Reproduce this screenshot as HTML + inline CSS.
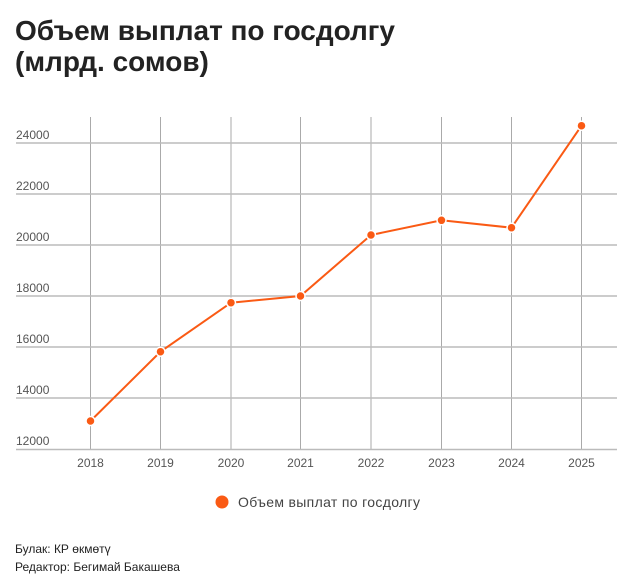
<!DOCTYPE html>
<html><head><meta charset="utf-8"><style>
body{margin:0;background:#fff;width:640px;height:586px;overflow:hidden;font-family:"Liberation Sans",sans-serif}
</style></head><body>
<svg width="640" height="586" xmlns="http://www.w3.org/2000/svg" style="position:absolute;left:0;top:0">
<text x="15" y="40" font-size="28" font-weight="bold" fill="#222" textLength="380">Объем выплат по госдолгу</text>
<text x="15" y="71" font-size="28" font-weight="bold" fill="#222">(млрд. сомов)</text>
<g stroke="#aaa" stroke-width="1">
<line x1="90.5" y1="117" x2="90.5" y2="450"/><line x1="160.5" y1="117" x2="160.5" y2="450"/>
<line x1="231" y1="117" x2="231" y2="450"/><line x1="300.5" y1="117" x2="300.5" y2="450"/>
<line x1="371" y1="117" x2="371" y2="450"/><line x1="441.5" y1="117" x2="441.5" y2="450"/>
<line x1="511.5" y1="117" x2="511.5" y2="450"/><line x1="581.5" y1="117" x2="581.5" y2="450"/>
</g>
<g stroke="#bbb" stroke-width="1.5">
<line x1="16" y1="143" x2="617" y2="143"/><line x1="16" y1="194" x2="617" y2="194"/>
<line x1="16" y1="245" x2="617" y2="245"/><line x1="16" y1="296" x2="617" y2="296"/>
<line x1="16" y1="347" x2="617" y2="347"/><line x1="16" y1="398" x2="617" y2="398"/>
<line x1="16" y1="449.5" x2="617" y2="449.5"/>
</g>
<g font-size="12" fill="#555">
<text x="16" y="139">24000</text><text x="16" y="190">22000</text><text x="16" y="241">20000</text>
<text x="16" y="292">18000</text><text x="16" y="343">16000</text><text x="16" y="394">14000</text><text x="16" y="445">12000</text>
</g>
<g font-size="12" fill="#555" text-anchor="middle">
<text x="90.5" y="467">2018</text><text x="160.5" y="467">2019</text><text x="231" y="467">2020</text><text x="300.5" y="467">2021</text>
<text x="371" y="467">2022</text><text x="441.5" y="467">2023</text><text x="511.5" y="467">2024</text><text x="581.5" y="467">2025</text>
</g>
<polyline fill="none" stroke="#fa5a14" stroke-width="2" points="90.5,421 160.5,351.7 231,302.7 300.5,296 371,235 441.5,220.3 511.5,227.7 581.5,125.7"/>
<g fill="#fa5a14" stroke="#fff" stroke-width="1.5">
<circle cx="90.5" cy="421" r="4.5"/><circle cx="160.5" cy="351.7" r="4.5"/><circle cx="231" cy="302.7" r="4.5"/><circle cx="300.5" cy="296" r="4.5"/>
<circle cx="371" cy="235" r="4.5"/><circle cx="441.5" cy="220.3" r="4.5"/><circle cx="511.5" cy="227.7" r="4.5"/><circle cx="581.5" cy="125.7" r="4.5"/>
</g>
<circle cx="222" cy="502" r="6.5" fill="#fa5a14"/>
<text x="238" y="507" font-size="14" fill="#444" textLength="182">Объем выплат по госдолгу</text>
<text x="15" y="553" font-size="12" fill="#222">Булак: КР өкмөтү</text>
<text x="15" y="571" font-size="12" fill="#222">Редактор: Бегимай Бакашева</text>
</svg>
</body></html>
